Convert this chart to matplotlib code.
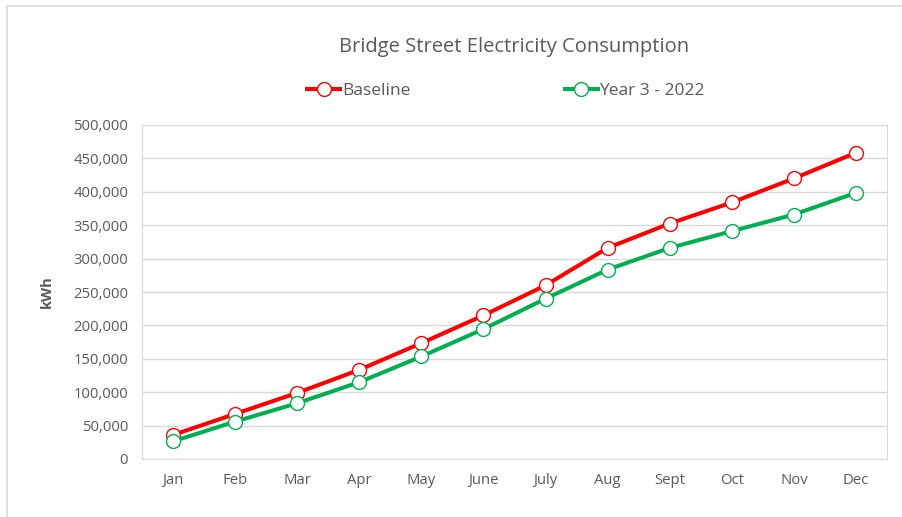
import matplotlib.pyplot as plt
from matplotlib.patches import Rectangle
from matplotlib.ticker import FuncFormatter

months = ["Jan", "Feb", "Mar", "Apr", "May", "June", "July", "Aug", "Sept", "Oct", "Nov", "Dec"]
baseline = [36000, 67500, 99000, 133500, 173500, 215000, 260000, 316000, 352500, 384000, 420000, 458500]
year3 = [26500, 56000, 83500, 115000, 153500, 194500, 240000, 283500, 316000, 341000, 366000, 398500]

plt.rcParams['font.family'] = ['Open Sans', 'DejaVu Sans']
txt = "#595959"
grid_c = "#D9D9D9"

fig = plt.figure(figsize=(9.02, 5.17), dpi=100)
ax = fig.add_axes([142/902, 58/517, 745/902, 334/517])

x = range(len(months))
ax.plot(x, baseline, color="#FF0000", lw=2.9, marker="o", ms=10,
        mfc="white", mec="#FF0000", mew=1, label="Baseline", zorder=3)
ax.plot(x, year3, color="#00B050", lw=2.9, marker="o", ms=10,
        mfc="white", mec="#00B050", mew=1, label="Year 3 - 2022", zorder=4)

ax.set_xlim(-0.5, 11.5)
ax.set_ylim(0, 500000)
ax.set_yticks(range(0, 500001, 50000))
ax.yaxis.set_major_formatter(FuncFormatter(lambda v, p: f"{int(v):,}"))
ax.set_xticks(list(x))
ax.set_xticklabels(months)
ax.tick_params(length=0, colors=txt, labelsize=10.7)
ax.tick_params(axis="x", pad=10)
ax.tick_params(axis="y", pad=10)
ax.grid(axis="y", color=grid_c, lw=1)
ax.set_axisbelow(True)
for s in ax.spines.values():
    s.set_color(grid_c)
ax.set_ylabel("kWh", color=txt, fontsize=10.5, fontweight="bold", labelpad=14)

fig.text(514/902, 1 - 47/517, "Bridge Street Electricity Consumption", ha="center", va="center",
         color=txt, fontsize=14.5)
fig.legend(loc="center", bbox_to_anchor=(506/902, 1 - 91/517), ncol=2, frameon=False,
           fontsize=12.5, labelcolor=txt, handlelength=1.9, handletextpad=0.1,
           columnspacing=8.9)

# chart area border (only top and left edges fall inside the image)
fig.patches.append(Rectangle((7/902, -0.1), 1.2, 1.1 - 6/517, transform=fig.transFigure,
                             fill=False, edgecolor=grid_c, lw=1.2))

fig.savefig("out.png", dpi=100)
